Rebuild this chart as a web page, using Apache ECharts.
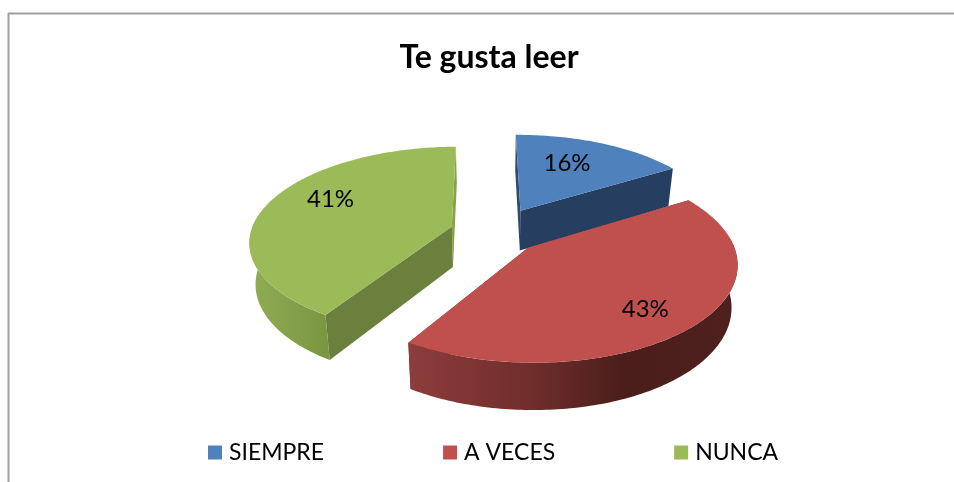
<!DOCTYPE html>
<html>
<head>
<meta charset="utf-8">
<style>html,body{margin:0;padding:0;background:#fff}#c{width:954px;height:482px}</style>
<script src="https://cdn.jsdelivr.net/npm/echarts@6/dist/echarts.min.js"></script>
</head>
<body>
<div id="c"></div>
<script>
const categories = ['SIEMPRE', 'A VECES', 'NUNCA'];
const values = [16.4, 42.6, 41];
const titleText = 'Te gusta leer';

const topColors = ['#4f81bd', '#c0504d', '#9bbb59'];
const cutColors = ['#2f4a70', '#5e2422', '#6a803c'];
const endColors = ['#263e5f', '#5e2422', '#86a24a'];
const explode = [0.27, 0.23, 0.225];
const labelR = [0.64, 0.77, 0.71];
const labelShift = [-4, 4, 9];
const drawOrder = [0, 2, 1];

const cx = 495, cy = 232, Rx = 201, Ry = 93, persp = 0.148, startDeg = -0.5;
const total = values.reduce((a, b) => a + b, 0);
const starts = [];
values.reduce((acc, v, i) => { starts[i] = acc; return acc + v / total * 360; }, startDeg);
const wallGrad = [
  () => '#263e5f',
  () => new echarts.graphic.LinearGradient(0, 0, 1, 0, [
    {offset: 0, color: '#8d3d3b'}, {offset: 0.38, color: '#6f2d2b'},
    {offset: 0.66, color: '#4a1e1b'}, {offset: 1, color: '#4f201e'}]),
  () => new echarts.graphic.LinearGradient(0, 0, 1, 0, [
    {offset: 0, color: '#90ad54'}, {offset: 1, color: '#7a9541'}])
];

function project(U, V) {
  const w = 1 - persp * V;
  return [cx + Rx * U / w, cy + Ry * V / w];
}
function dropped(p) {
  const depth = 40 + 0.05 * (p[1] - 215);
  return [cx + (p[0] - cx) * 0.975, p[1] + depth];
}

function renderSlice(i, api) {
  const value = api.value(0);
  const a0 = starts[i];
  const sweep = value / total * 360;
  const a1 = a0 + sweep;
  const rad = d => d * Math.PI / 180;
  const mid = rad(a0 + sweep / 2);
  const ou = explode[i] * Math.sin(mid), ov = -explode[i] * Math.cos(mid);
  const pt = (deg, r) => project(ou + r * Math.sin(rad(deg)), ov - r * Math.cos(rad(deg)));
  const apex = project(ou, ov);

  const arc = [];
  for (let d = a0; d < a1; d += 1) arc.push(pt(d, 1));
  arc.push(pt(a1, 1));
  const topPts = [apex].concat(arc);

  const children = [];
  const poly = (points, fill) => children.push({
    type: 'polygon', shape: {points}, style: {fill, stroke: null}, silent: true
  });

  poly([arc[arc.length - 1], apex, dropped(apex), dropped(arc[arc.length - 1])], endColors[i]);
  poly([arc[0], apex, dropped(apex), dropped(arc[0])], cutColors[i]);

  const from = Math.max(a0, 84), to = Math.min(a1, 278);
  if (to > from) {
    const front = [];
    for (let d = from; d < to; d += 1) front.push(pt(d, 1));
    front.push(pt(to, 1));
    poly(front.concat(front.map(dropped).reverse()), wallGrad[i]());
  }

  poly(topPts, topColors[i]);

  const lp = pt(a0 + sweep / 2 + labelShift[i], labelR[i]);
  children.push({
    type: 'text', silent: true,
    style: {
      x: lp[0], y: lp[1] - 1, text: Math.round(value / total * 100) + '%',
      align: 'center', verticalAlign: 'middle',
      font: '24px Lato, sans-serif', fill: '#000'
    }
  });
  return {type: 'group', children};
}

const chart = echarts.init(document.getElementById('c'), null, {renderer: 'canvas'});
chart.setOption({
  animation: false,
  backgroundColor: '#fff',
  title: {
    text: titleText, left: 484, top: 37, textAlign: 'center',
    textStyle: {fontFamily: 'Lato, sans-serif', fontWeight: 'bold', fontSize: 32, color: '#000'}
  },
  legend: {
    data: categories, left: 203, top: 436, itemWidth: 14, itemHeight: 14, itemGap: 119,
    icon: 'rect', selectedMode: false,
    textStyle: {fontFamily: 'Lato, sans-serif', fontSize: 23, color: '#000', width: 97, padding: [0, 0, 0, 2]}
  },
  graphic: [
    {type: 'line', shape: {x1: 8.5, y1: 13, x2: 8.5, y2: 482}, style: {stroke: '#a0a0a0', lineWidth: 2}, silent: true},
    {type: 'line', shape: {x1: 8, y1: 13.5, x2: 954, y2: 13.5}, style: {stroke: '#a0a0a0', lineWidth: 2}, silent: true}
  ],
  series: drawOrder.map(i => ({
    type: 'custom', name: categories[i], coordinateSystem: 'none',
    itemStyle: {color: topColors[i]},
    data: [[values[i]]],
    renderItem: (params, api) => renderSlice(i, api)
  }))
});
</script>
</body>
</html>
